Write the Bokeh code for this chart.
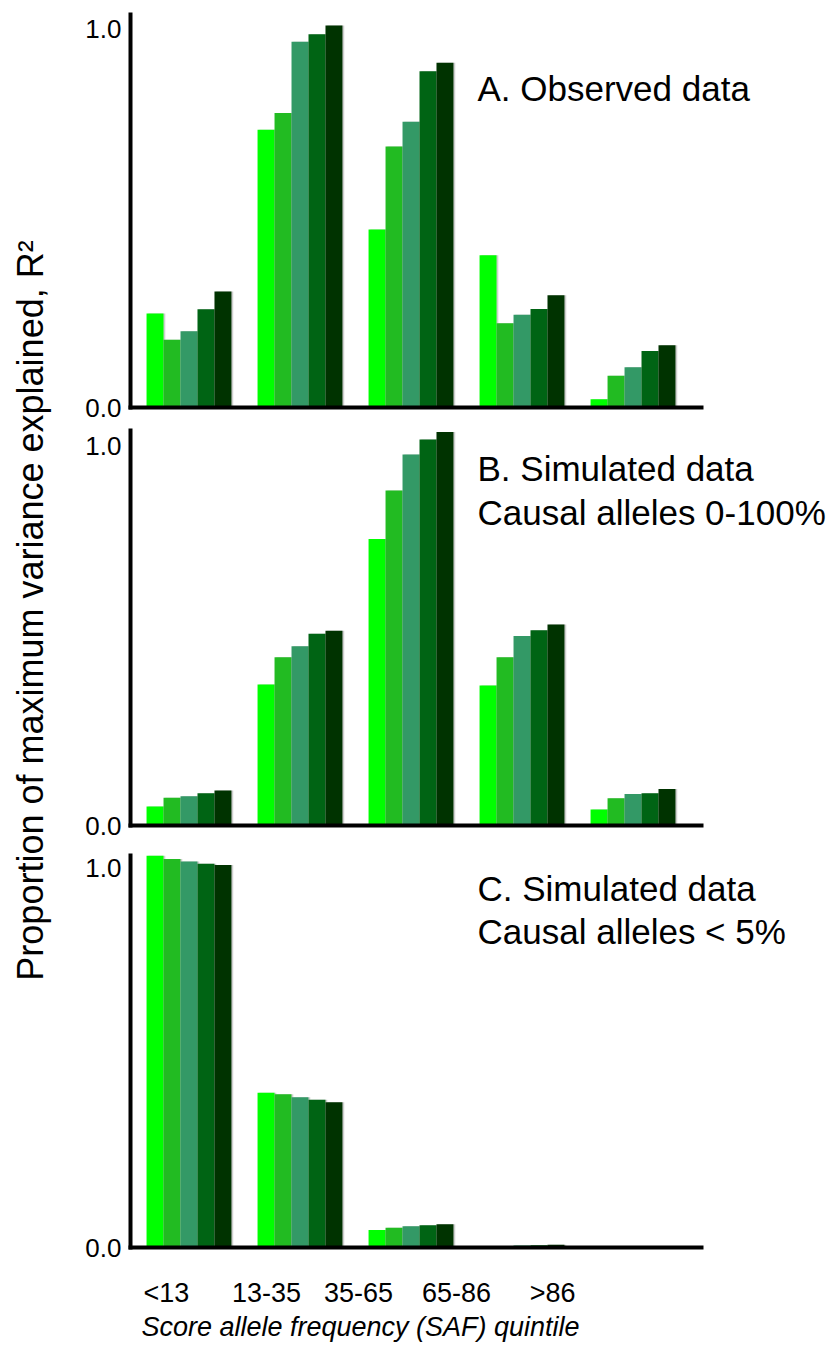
import math
from bokeh.plotting import figure
from bokeh.layouts import row, column
from bokeh.models import Range1d, FixedTicker, Label, PrintfTickFormatter
from bokeh.embed import file_html
from bokeh.resources import INLINE

# ---------------- data ----------------
CATEGORIES = ["<13", "13-35", "35-65", "65-86", ">86"]
SERIES_COLORS = ["#00FF00", "#22BB22", "#339966", "#006414", "#003300"]

# one row per SAF quintile, five series (light -> dark)
OBSERVED = [
    [0.248, 0.179, 0.201, 0.259, 0.306],
    [0.733, 0.777, 0.965, 0.985, 1.008],
    [0.470, 0.689, 0.754, 0.887, 0.910],
    [0.402, 0.222, 0.245, 0.260, 0.296],
    [0.022, 0.084, 0.106, 0.149, 0.164],
]
SIM_ALL = [
    [0.050, 0.073, 0.077, 0.085, 0.092],
    [0.372, 0.444, 0.473, 0.506, 0.514],
    [0.756, 0.884, 0.979, 1.018, 1.038],
    [0.369, 0.444, 0.500, 0.515, 0.530],
    [0.042, 0.072, 0.083, 0.085, 0.096],
]
SIM_RARE = [
    [1.035, 1.025, 1.018, 1.012, 1.009],
    [0.408, 0.404, 0.396, 0.390, 0.383],
    [0.046, 0.052, 0.056, 0.059, 0.061],
    [0.003, 0.004, 0.005, 0.006, 0.007],
    [0.000, 0.000, 0.001, 0.001, 0.001],
]
PANEL_TEXT_A = ["A. Observed data"]
PANEL_TEXT_B = ["B. Simulated data", "Causal alleles 0-100%"]
PANEL_TEXT_C = ["C. Simulated data", "Causal alleles < 5%"]
Y_LABEL = "Proportion of maximum variance explained, R\u00b2"
X_LABEL = "Score allele frequency (SAF) quintile"

# ---------------- layout ----------------
FONT = "Liberation Sans"
BAR_W = 0.153
X_START, X_END = -0.527, 5.815
AXIS_END = 4.617
TICK_POS = [-0.203, 0.698, 1.527, 2.410, 3.275]
TEXT_X = 2.599
LEFT_W = 78
PANEL_W = 756


def make_panel(values, height, b_top, b_bottom, y_end, texts, text_y, bottom_labels):
    p = figure(width=PANEL_W, height=height, output_backend="svg",
               toolbar_location=None, tools="",
               x_range=Range1d(X_START, X_END), y_range=Range1d(0, y_end),
               min_border_left=52, min_border_right=0,
               min_border_top=b_top, min_border_bottom=b_bottom)
    p.background_fill_color = "white"
    p.border_fill_color = "white"
    p.outline_line_color = None
    p.grid.visible = False

    n = len(values)
    # faint drop shadow
    for j in range(len(SERIES_COLORS)):
        xs = [i + (j - 2) * BAR_W + 0.016 for i in range(n)]
        tops = [values[i][j] for i in range(n)]
        p.vbar(x=xs, top=tops, bottom=0, width=BAR_W, fill_color="#cfcfcf",
               line_color=None)
    for j, c in enumerate(SERIES_COLORS):
        xs = [i + (j - 2) * BAR_W for i in range(n)]
        tops = [values[i][j] for i in range(n)]
        p.vbar(x=xs, top=tops, bottom=0, width=BAR_W, fill_color=c,
               line_color=None)

    for ax in (p.xaxis, p.yaxis):
        ax.axis_line_width = 4
        ax.axis_line_color = "black"
        ax.axis_line_cap = "square"
        ax.major_tick_in = 0
        ax.major_tick_out = 0
        ax.minor_tick_in = 0
        ax.minor_tick_out = 0
        ax.major_label_text_font = FONT
        ax.major_label_text_color = "black"
    p.xaxis.bounds = (X_START, AXIS_END)

    p.yaxis.ticker = FixedTicker(ticks=[0, 1])
    p.yaxis.formatter = PrintfTickFormatter(format="%.1f")
    p.yaxis.major_label_text_font_size = "26px"
    p.yaxis.major_label_standoff = 9

    if bottom_labels:
        p.xaxis.ticker = FixedTicker(ticks=TICK_POS)
        p.xaxis.major_label_overrides = {t: c for t, c in zip(TICK_POS, CATEGORIES)}
        p.xaxis.major_label_text_font_size = "27px"
        p.xaxis.major_label_standoff = 30
    else:
        p.xaxis.ticker = FixedTicker(ticks=[])
        p.xaxis.major_label_text_font_size = "0px"
        p.xaxis.major_label_standoff = 0

    for t, yv in zip(texts, text_y):
        p.add_layout(Label(x=TEXT_X, y=yv, text=t, text_font=FONT,
                           text_font_size="35px", text_align="left",
                           text_baseline="middle", text_color="black"))
    return p


H_A, H_B, H_C, H_X = 421, 419, 471, 39
pA = make_panel(OBSERVED, H_A, 14, 14, 1.037, PANEL_TEXT_A, [0.842], False)
pB = make_panel(SIM_ALL, H_B, 9, 15, 1.042, PANEL_TEXT_B, [0.942, 0.827], False)
pC = make_panel(SIM_RARE, H_C, 15, 64, 1.034, PANEL_TEXT_C, [0.947, 0.834], True)

# x-axis title strip
xf = figure(width=PANEL_W, height=H_X, output_backend="svg",
            toolbar_location=None, tools="",
            x_range=Range1d(0, PANEL_W), y_range=Range1d(0, H_X),
            x_axis_type=None, y_axis_type=None, min_border=0)
xf.outline_line_color = None
xf.grid.visible = False
xf.add_layout(Label(x=247, y=24, text=X_LABEL, text_font=FONT,
                    text_font_size="27px", text_font_style="italic",
                    text_align="center", text_baseline="middle",
                    text_color="black"))

TOTAL_H = H_A + H_B + H_C + H_X
yf = figure(width=LEFT_W, height=TOTAL_H, output_backend="svg",
            toolbar_location=None, tools="",
            x_range=Range1d(0, LEFT_W), y_range=Range1d(0, TOTAL_H),
            x_axis_type=None, y_axis_type=None, min_border=0)
yf.outline_line_color = None
yf.grid.visible = False
yf.add_layout(Label(x=30, y=TOTAL_H - 610, text=Y_LABEL, angle=math.pi / 2,
                    text_font=FONT, text_font_size="36px", text_align="center",
                    text_baseline="middle", text_color="black"))

layout = row(yf, column(pA, pB, pC, xf))
open("out.html", "w").write(file_html(layout, INLINE))
